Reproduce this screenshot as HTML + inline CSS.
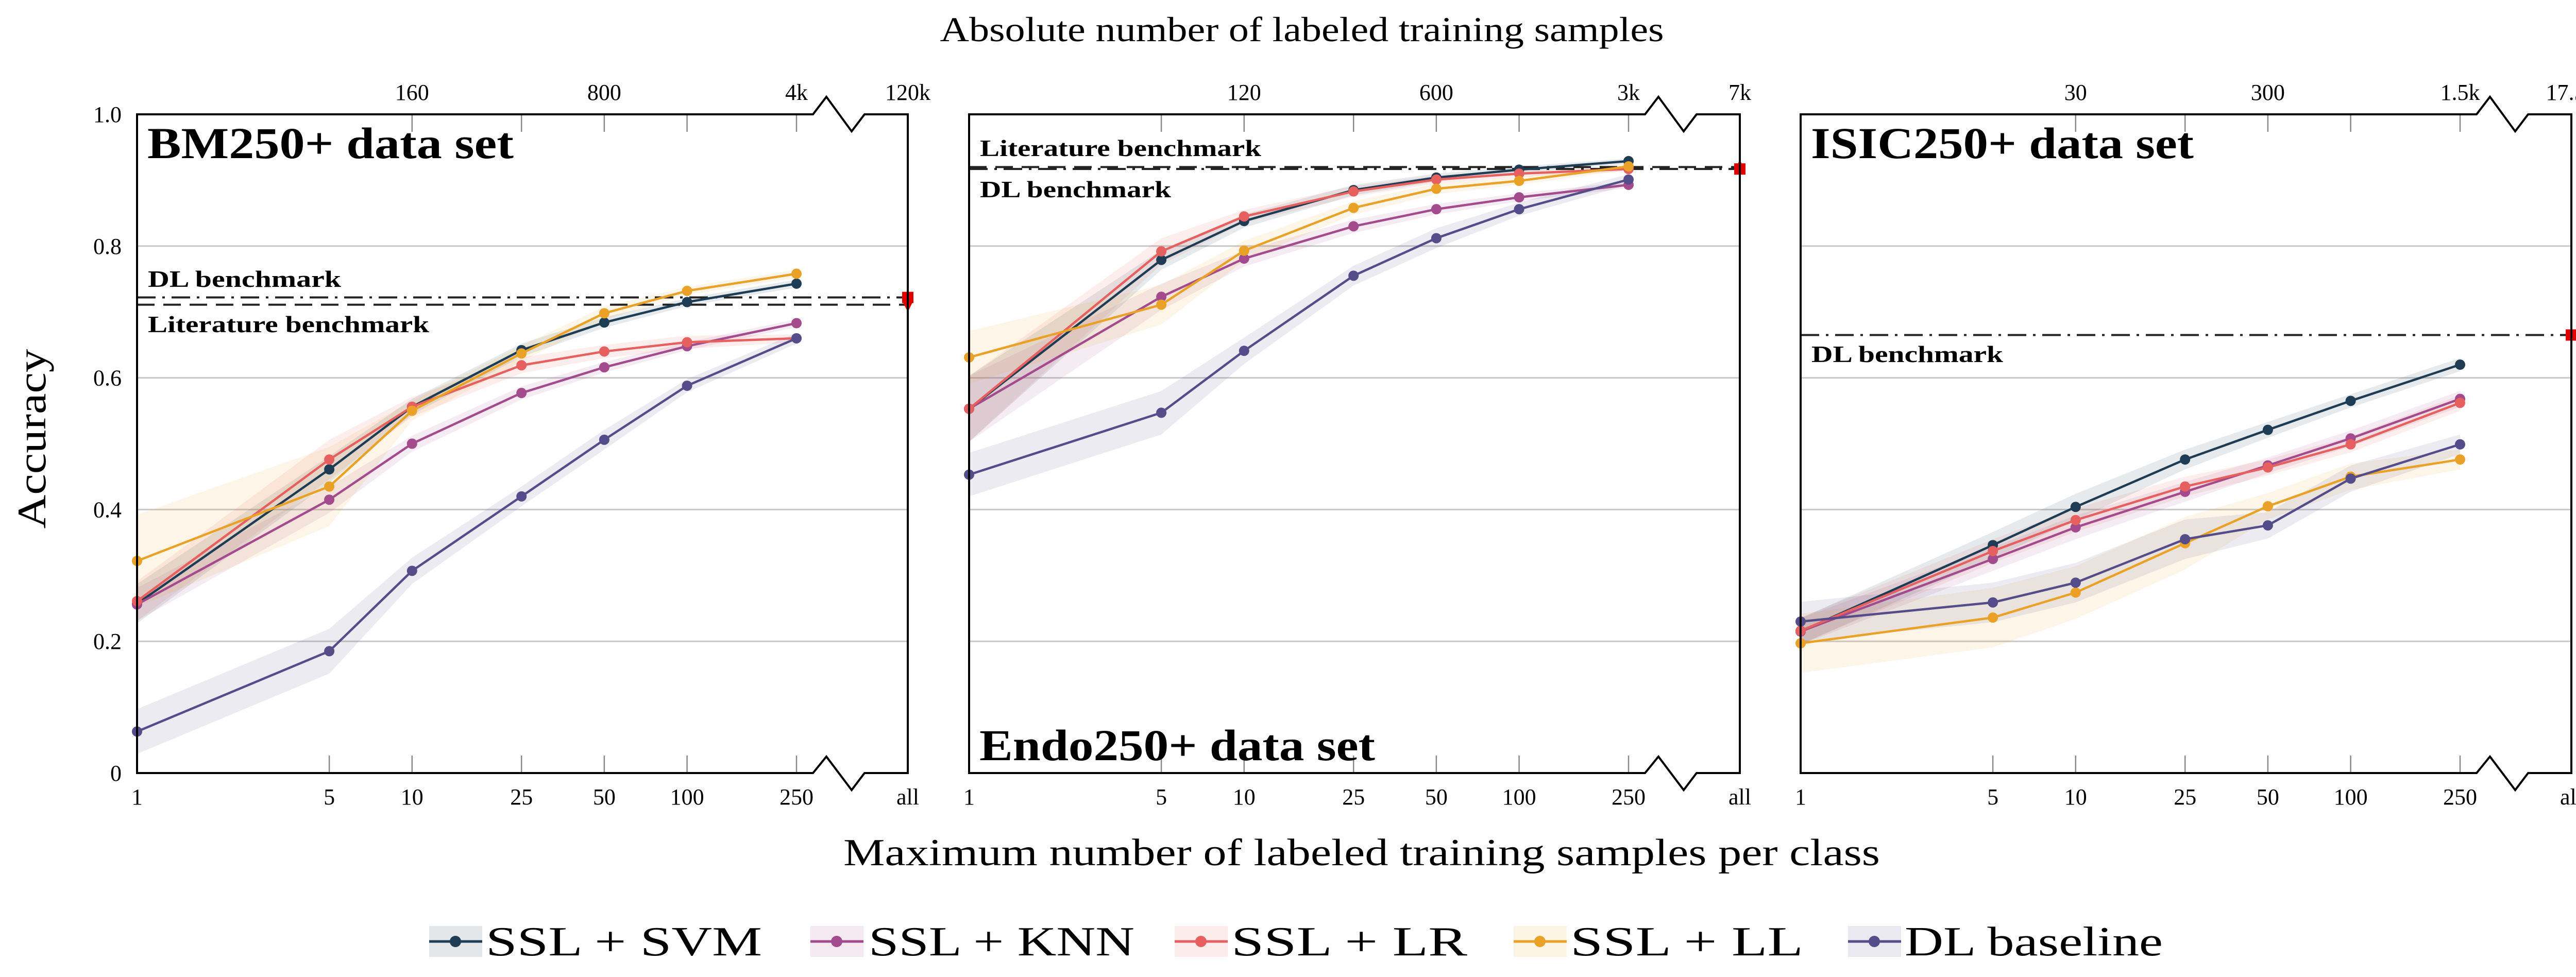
<!DOCTYPE html>
<html><head><meta charset="utf-8"><style>
html,body{margin:0;padding:0;background:#fff;}
svg{display:block;font-family:"Liberation Serif",serif;}
</style></head><body>
<svg id="chart" width="5063" height="1897" viewBox="0 0 5063 1897" xmlns="http://www.w3.org/2000/svg">
<text x="2527" y="80" font-size="68" text-anchor="middle" textLength="1405" lengthAdjust="spacingAndGlyphs">Absolute number of labeled training samples</text>
<text x="2643" y="1680" font-size="74" text-anchor="middle" textLength="2012" lengthAdjust="spacingAndGlyphs">Maximum number of labeled training samples per class</text>
<text x="0" y="0" font-size="78" text-anchor="middle" transform="translate(88,852) rotate(-90)" textLength="349" lengthAdjust="spacingAndGlyphs">Accuracy</text>
</svg>
<script>
const categories = [1, 5, 10, 25, 50, 100, 250];
const seriesNames = ["SSL + SVM", "SSL + KNN", "SSL + LR", "SSL + LL", "DL baseline"];
const seriesColors = ["#1f3c55", "#a34b8d", "#e5605f", "#e9a227", "#554c8a"];
const yTicks = [0, 0.2, 0.4, 0.6, 0.8, 1.0];
const yTickLabels = ["0", "0.2", "0.4", "0.6", "0.8", "1.0"];

const bmSVM = [0.257, 0.461, 0.556, 0.642, 0.684, 0.715, 0.743];
const bmKNN = [0.256, 0.415, 0.500, 0.577, 0.616, 0.648, 0.683];
const bmLR  = [0.261, 0.476, 0.556, 0.619, 0.640, 0.654, 0.660];
const bmLL  = [0.322, 0.435, 0.550, 0.637, 0.698, 0.732, 0.758];
const bmDL  = [0.063, 0.185, 0.307, 0.420, 0.506, 0.588, 0.660];
const bmSVMsd = [0.03, 0.02, 0.012, 0.01, 0.008, 0.006, 0.006];
const bmKNNsd = [0.025, 0.02, 0.012, 0.01, 0.008, 0.006, 0.006];
const bmLRsd  = [0.03, 0.03, 0.015, 0.012, 0.01, 0.01, 0.006];
const bmLLsd  = [0.07, 0.06, 0.015, 0.012, 0.01, 0.006, 0.006];
const bmDLsd  = [0.034, 0.034, 0.02, 0.015, 0.015, 0.01, 0.008];

const endoSVM = [0.553, 0.779, 0.838, 0.885, 0.904, 0.916, 0.929];
const endoKNN = [0.553, 0.723, 0.781, 0.830, 0.856, 0.874, 0.893];
const endoLR  = [0.553, 0.792, 0.845, 0.883, 0.901, 0.910, 0.917];
const endoLL  = [0.631, 0.711, 0.793, 0.858, 0.887, 0.899, 0.921];
const endoDL  = [0.453, 0.547, 0.641, 0.755, 0.812, 0.856, 0.901];
const endoSVMsd = [0.05, 0.015, 0.01, 0.008, 0.006, 0.005, 0.004];
const endoKNNsd = [0.05, 0.02, 0.012, 0.01, 0.008, 0.006, 0.005];
const endoLRsd  = [0.05, 0.02, 0.01, 0.008, 0.006, 0.005, 0.004];
const endoLLsd  = [0.04, 0.03, 0.015, 0.01, 0.008, 0.006, 0.005];
const endoDLsd  = [0.033, 0.033, 0.02, 0.015, 0.015, 0.01, 0.008];

const isicSVM = [0.215, 0.346, 0.404, 0.476, 0.521, 0.565, 0.620];
const isicKNN = [0.215, 0.325, 0.373, 0.427, 0.467, 0.508, 0.568];
const isicLR  = [0.216, 0.337, 0.384, 0.435, 0.464, 0.499, 0.562];
const isicLL  = [0.197, 0.236, 0.274, 0.349, 0.405, 0.450, 0.476];
const isicDL  = [0.230, 0.259, 0.289, 0.355, 0.376, 0.447, 0.499];
const isicSVMsd = [0.02, 0.02, 0.02, 0.015, 0.012, 0.01, 0.01];
const isicKNNsd = [0.02, 0.018, 0.018, 0.015, 0.012, 0.012, 0.012];
const isicLRsd  = [0.02, 0.018, 0.018, 0.015, 0.012, 0.012, 0.012];
const isicLLsd  = [0.045, 0.045, 0.04, 0.04, 0.02, 0.02, 0.015];
const isicDLsd  = [0.03, 0.03, 0.03, 0.03, 0.02, 0.02, 0.015];

const bmTopLabels = ["160", "800", "4k", "120k"];
const endoTopLabels = ["120", "600", "3k", "7k"];
const isicTopLabels = ["30", "300", "1.5k", "17.5k"];

const bmBench = [0.722, 0.711];
const endoBench = [0.917, 0.920];
const isicBench = [0.665];

const NS = "http://www.w3.org/2000/svg";
const svg = document.getElementById("chart");
const Y0 = 1501, Y1 = 222, W = 1496, XR = 1280;
function yPos(v){ return Y0 - v * (Y0 - Y1); }
function xPos(x0, c){ return x0 + Math.log10(c) / Math.log10(250) * XR; }
function mk(tag, attrs, parent){ const e = document.createElementNS(NS, tag); for (const k in attrs) e.setAttribute(k, attrs[k]); (parent||svg).appendChild(e); return e; }

const panels = [
  {x0:266, name:"bm", title:"BM250+ data set", ty:307, vals:[bmSVM,bmKNN,bmLR,bmLL,bmDL], sds:[bmSVMsd,bmKNNsd,bmLRsd,bmLLsd,bmDLsd], top:bmTopLabels, topTicks:[10,25,50,100,250], bench:bmBench,
   benchStyles:["dashdot","dash"], benchMarkers:["square","tridown"], labels:[["DL benchmark",557,375],["Literature benchmark",645,546]], yLabels:true},
  {x0:1881, name:"endo", title:"Endo250+ data set", ty:1476, vals:[endoSVM,endoKNN,endoLR,endoLL,endoDL], sds:[endoSVMsd,endoKNNsd,endoLRsd,endoLLsd,endoDLsd], top:endoTopLabels, topTicks:[5,10,25,50,100,250], bench:endoBench,
   benchStyles:["dashdot","dash"], benchMarkers:["square","triup"], labels:[["Literature benchmark",303,546],["DL benchmark",383,371]], yLabels:false},
  {x0:3495, name:"isic", title:"ISIC250+ data set", ty:307, vals:[isicSVM,isicKNN,isicLR,isicLL,isicDL], sds:[isicSVMsd,isicKNNsd,isicLRsd,isicLLsd,isicDLsd], top:isicTopLabels, topTicks:[10,25,50,100,250], bench:isicBench,
   benchStyles:["dashdot"], benchMarkers:["square"], labels:[["DL benchmark",703,372]], yLabels:false}
];
const titleWidths = {bm:711, endo:768, isic:743};

panels.forEach(p => {
  const g = mk("g", {});
  
  
  const x0 = p.x0, xAll = x0 + W;
  // gridlines
  [0.2,0.4,0.6,0.8].forEach(v => {
    const l = mk("line", {x1:x0, x2:xAll, y1:yPos(v), y2:yPos(v), stroke:"#c8c8c8", "stroke-width":3}, g);
    
    
  });
  // ticks
  categories.slice(1).forEach(c => {
    const t = mk("line", {x1:xPos(x0,c), x2:xPos(x0,c), y1:Y0, y2:Y0-34, stroke:"#888", "stroke-width":2.5}, g);
    
    
  });
  p.topTicks.forEach(c => {
    const t = mk("line", {x1:xPos(x0,c), x2:xPos(x0,c), y1:Y1, y2:Y1+34, stroke:"#888", "stroke-width":2.5}, g);
    
    
  });
  // bands
  p.vals.forEach((vals, si) => {
    const sd = p.sds[si];
    let up = categories.map((c,i) => xPos(x0,c) + "," + yPos(vals[i] + sd[i]));
    let dn = categories.map((c,i) => xPos(x0,c) + "," + yPos(vals[i] - sd[i])).reverse();
    const b = mk("polygon", {points: up.concat(dn).join(" "), fill: seriesColors[si], "fill-opacity":0.11}, g);
    
    
  });
  // benchmark lines
  p.bench.forEach((v, bi) => {
    const dash = p.benchStyles[bi] === "dash" ? "34 17" : "36 13 5 13";
    const l = mk("line", {x1:x0, x2:xAll, y1:yPos(v), y2:yPos(v), stroke:"#222", "stroke-width":4, "stroke-dasharray":dash}, g);
    
    
  });
  // lines + markers
  p.vals.forEach((vals, si) => {
    const pts = categories.map((c,i) => xPos(x0,c) + "," + yPos(vals[i])).join(" ");
    const l = mk("polyline", {points:pts, fill:"none", stroke:seriesColors[si], "stroke-width":4.5}, g);
    
    
    categories.forEach((c,i) => {
      const m = mk("circle", {cx:xPos(x0,c), cy:yPos(vals[i]), r:10, fill:seriesColors[si]}, g);
      
      
    });
  });
  // benchmark markers
  p.bench.forEach((v, bi) => {
    const y = yPos(v), t = p.benchMarkers[bi];
    let m;
    if (t === "square") m = mk("rect", {x:xAll-11, y:y-11, width:22, height:22, fill:"#e00000"}, g);
    else if (t === "tridown") m = mk("polygon", {points:`${xAll-11},${y-8} ${xAll+11},${y-8} ${xAll},${y+14}`, fill:"#e00000"}, g);
    else m = mk("polygon", {points:`${xAll-11},${y+8} ${xAll+11},${y+8} ${xAll},${y-14}`, fill:"#e00000"}, g);
    
    
  });
  // frame with breaks
  const bs = x0 + 1312;
  const frame = `M${xAll},${Y1} L${bs+100},${Y1} L${bs+75},${Y1+33} L${bs+26},${Y1-34} L${bs},${Y1} L${x0},${Y1} L${x0},${Y0} L${bs},${Y0} L${bs+26},${Y0-32} L${bs+75},${Y0+33} L${bs+100},${Y0} L${xAll},${Y0} Z`;
  const f = mk("path", {d:frame, fill:"none", stroke:"#000", "stroke-width":4, "stroke-linejoin":"miter"}, g);
  
  
  // bottom labels
  const bl = categories.map(String).concat(["all"]);
  bl.forEach((s, i) => {
    const x = i < categories.length ? xPos(x0, categories[i]) : xAll;
    const t = mk("text", {x:x, y:1562, "font-size":44, "text-anchor":"middle"}, g);
    t.textContent = s;
    
    
  });
  // top labels
  [10,50,250,"all"].forEach((c, i) => {
    const x = c === "all" ? xAll : xPos(x0, c);
    const t = mk("text", {x:x, y:194, "font-size":44, "text-anchor":"middle"}, g);
    t.textContent = p.top[i];
    
    
  });
  if (p.yLabels) {
    yTicks.forEach((v, i) => {
      const t = mk("text", {x:236, y:yPos(v)+15, "font-size":44, "text-anchor":"end"}, g);
      t.textContent = yTickLabels[i];
      
      
    });
  }
  // title
  const tt = mk("text", {x:x0+20, y:p.ty, "font-size":86, "font-weight":"bold", textLength:titleWidths[p.name], lengthAdjust:"spacingAndGlyphs"}, g);
  tt.textContent = p.title;
  
  
  p.labels.forEach(L => {
    const t = mk("text", {x:x0+21, y:L[1], "font-size":46, "font-weight":"bold", textLength:L[2], lengthAdjust:"spacingAndGlyphs"}, g);
    t.textContent = L[0];
    
    
  });
});

// legend
const legIcon = [833, 1573, 2280, 2938, 3587];
const legText = [[943,536],[1686,516],[2390,458],[3048,452],[3697,501]];
const lg = mk("g", {});


seriesNames.forEach((n, i) => {
  const e = mk("g", {}, lg);
  
  
  const x = legIcon[i];
  mk("rect", {x:x, y:1798, width:103, height:60, fill:seriesColors[i], "fill-opacity":0.12}, e);
  mk("line", {x1:x, x2:x+103, y1:1828, y2:1828, stroke:seriesColors[i], "stroke-width":5}, e);
  mk("circle", {cx:x+51, cy:1828, r:11, fill:seriesColors[i]}, e);
  const t = mk("text", {x:legText[i][0], y:1855, "font-size":80, textLength:legText[i][1], lengthAdjust:"spacingAndGlyphs"}, e);
  t.textContent = n;
});
</script>
</body></html>
